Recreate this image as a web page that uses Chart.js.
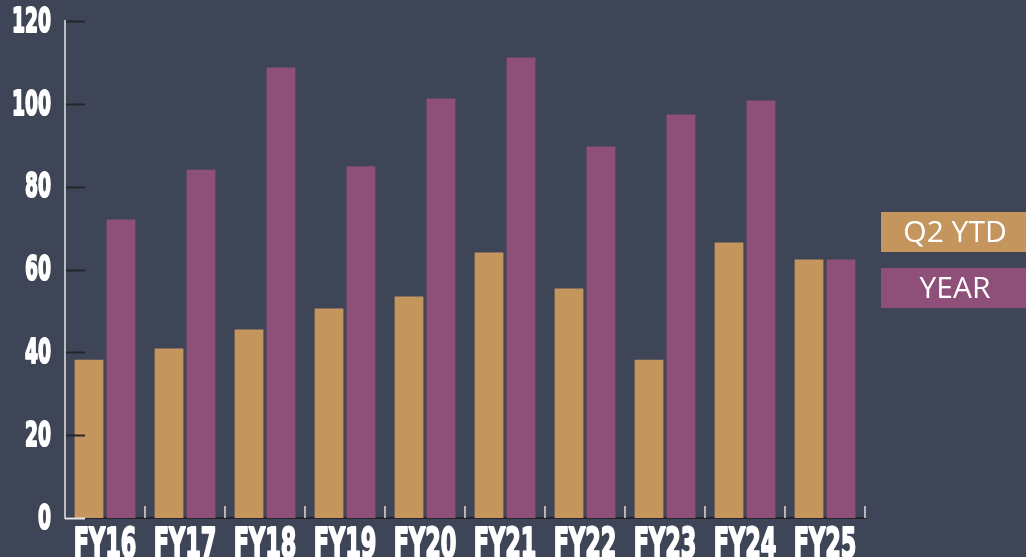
<!DOCTYPE html>
<html>
<head>
<meta charset="utf-8">
<title>Q2 YTD vs Year</title>
<script src="https://cdn.jsdelivr.net/npm/chart.js@4/dist/chart.umd.min.js"></script>
<style>
  html, body { margin: 0; padding: 0; background: #3e4557; overflow: hidden; }
  #chartWrap { position: relative; width: 1026px; height: 557px; }
</style>
</head>
<body>
<div id="chartWrap"><canvas id="fyChart" width="1026" height="557"></canvas></div>
<script>
const years = ["FY16", "FY17", "FY18", "FY19", "FY20", "FY21", "FY22", "FY23", "FY24", "FY25"];
const q2Ytd = [38.2, 40.9, 45.5, 50.6, 53.5, 64.1, 55.4, 38.2, 66.5, 62.4];
const fullYear = [72.1, 84.1, 108.8, 84.9, 101.3, 111.2, 89.7, 97.4, 100.8, 62.4];
const seriesNames = ["Q2 YTD", "YEAR"];
const seriesColors = ["#c4965e", "#8e4f78"];

// heavy narrow labels: bold DejaVu squeezed horizontally, stroked to fatten
function condensedText(ctx, text, x, y, align, squeeze) {
  ctx.save();
  ctx.translate(x, y);
  ctx.scale(squeeze, 1);
  ctx.textAlign = align;
  ctx.lineJoin = "round";
  ctx.lineWidth = 2.2;
  ctx.strokeText(text, 0, 0);
  ctx.fillText(text, 0, 0);
  ctx.restore();
}

// axis labels, short inward tick marks and the boxed legend on the right
const axisMarks = {
  id: "axisMarks",
  afterDraw(chart) {
    const { ctx, chartArea, scales } = chart;
    const x = scales.x;
    const y = scales.y;
    ctx.save();

    // y axis ticks pointing into the plot
    y.ticks.forEach((t) => {
      const py = Math.round(y.getPixelForValue(t.value)) + 0.5;
      ctx.strokeStyle = t.value === 0 ? "#e6e6e6" : "#23262d";
      ctx.lineWidth = 2;
      ctx.beginPath();
      ctx.moveTo(chartArea.left, py);
      ctx.lineTo(chartArea.left + 20, py);
      ctx.stroke();
    });

    // x axis ticks between categories, pointing up
    ctx.strokeStyle = "#dcdcdc";
    ctx.lineWidth = 1.5;
    for (let i = 0; i < years.length; i++) {
      const px = Math.round(x.getPixelForValue(i + 0.5));
      ctx.beginPath();
      ctx.moveTo(px, chartArea.bottom);
      ctx.lineTo(px, chartArea.bottom - 12);
      ctx.stroke();
    }

    // y axis line
    ctx.strokeStyle = "#e6e6e6";
    ctx.lineWidth = 1.5;
    ctx.beginPath();
    ctx.moveTo(chartArea.left, chartArea.top - 1);
    ctx.lineTo(chartArea.left, chartArea.bottom + 1);
    ctx.stroke();

    // tick labels
    ctx.fillStyle = "#ffffff";
    ctx.strokeStyle = "#ffffff";
    ctx.font = "bold 34px 'DejaVu Sans', sans-serif";
    ctx.textBaseline = "middle";
    y.ticks.forEach((t) => {
      condensedText(ctx, String(t.value), chartArea.left - 14, y.getPixelForValue(t.value) + 2, "right", 0.55);
    });
    ctx.font = "bold 40px 'DejaVu Sans', sans-serif";
    ctx.textBaseline = "alphabetic";
    x.getLabels().forEach((lab, i) => {
      condensedText(ctx, lab, x.getPixelForValue(i), chartArea.bottom + 39, "center", 0.56);
    });

    // legend boxes
    const boxX = chartArea.right + 16;
    const boxW = 150;
    const boxH = 40;
    const tops = [212, 268];
    ctx.font = "30px 'Open Sans', 'Noto Sans', sans-serif";
    ctx.textAlign = "center";
    ctx.textBaseline = "middle";
    chart.data.datasets.forEach((ds, i) => {
      ctx.fillStyle = ds.backgroundColor;
      ctx.fillRect(boxX, tops[i], boxW, boxH);
      ctx.fillStyle = "#ffffff";
      ctx.fillText(ds.label, boxX + boxW / 2 - 1, tops[i] + boxH / 2 + 1);
    });

    ctx.restore();
  },
};

new Chart(document.getElementById("fyChart"), {
  type: "bar",
  data: {
    labels: years,
    datasets: [
      {
        label: seriesNames[0],
        data: q2Ytd,
        backgroundColor: seriesColors[0],
        categoryPercentage: 0.8,
        barPercentage: 0.9,
      },
      {
        label: seriesNames[1],
        data: fullYear,
        backgroundColor: seriesColors[1],
        categoryPercentage: 0.8,
        barPercentage: 0.9,
      },
    ],
  },
  options: {
    responsive: false,
    animation: false,
    layout: {
      padding: { top: 21, right: 161, left: 0, bottom: 0 },
    },
    plugins: {
      legend: { display: false },
      tooltip: { enabled: false },
    },
    scales: {
      x: {
        grid: { display: false },
        border: { display: true, color: "#23262d", width: 2 },
        ticks: { display: false },
        afterFit(scale) {
          scale.height = 39;
        },
      },
      y: {
        min: 0,
        max: 120,
        grid: { display: false, drawTicks: false },
        border: { display: false },
        ticks: { display: false, stepSize: 20 },
        afterFit(scale) {
          scale.width = 65;
        },
      },
    },
  },
  plugins: [axisMarks],
});
</script>
</body>
</html>
